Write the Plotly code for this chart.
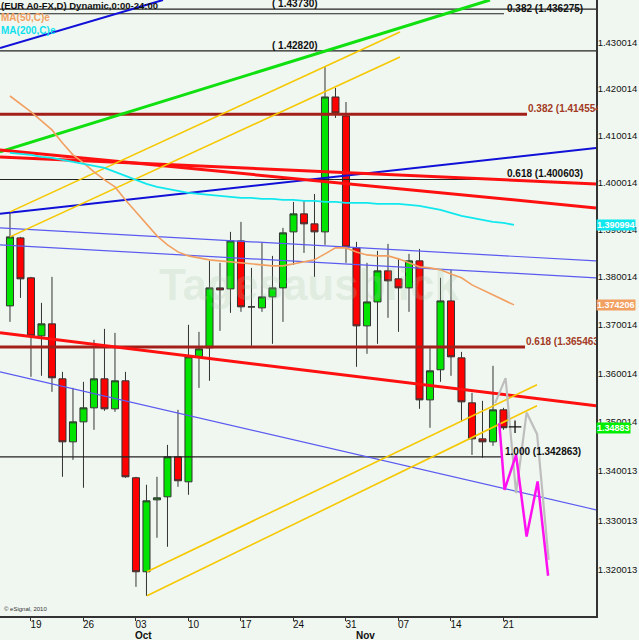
import math
import plotly.graph_objects as go

# ---------------- data ----------------
bar_index = list(range(48))
opens = [1.37400,1.38825,1.37986,1.36777,1.37026,1.35888,1.34595,1.35004,1.35291,1.35888,
         1.35271,1.35847,1.33863,1.31968,1.33416,1.33477,1.34289,1.33781,1.36342,1.36528,
         1.37776,1.37755,1.38762,1.37380,1.37359,1.37588,1.37776,1.38952,1.39332,1.39121,
         1.38952,1.41825,1.41418,1.38614,1.36984,1.37483,1.38132,1.37965,1.37776,1.38342,
         1.35455,1.36075,1.37504,1.36321,1.35394,1.34656,1.34595,1.35250]
highs = [1.39374,1.38846,1.38007,1.37463,1.38007,1.36032,1.35702,1.35826,1.36694,1.36922,
         1.36839,1.36032,1.33883,1.33721,1.33883,1.34533,1.35250,1.37006,1.36860,1.38342,
         1.38300,1.38952,1.39163,1.38195,1.38720,1.38446,1.39036,1.39585,1.39606,1.39753,
         1.42473,1.42019,1.41717,1.38741,1.38300,1.38551,1.38699,1.38384,1.38488,1.38593,
         1.36569,1.37986,1.38153,1.36445,1.35599,1.35435,1.36156,1.35291]
lows = [1.37068,1.37567,1.35929,1.35950,1.35620,1.33883,1.34228,1.33660,1.34841,1.35230,
        1.35209,1.33863,1.31667,1.31487,1.32650,1.32469,1.33680,1.33518,1.35702,1.35847,
        1.36881,1.37255,1.37276,1.36569,1.37276,1.36611,1.37068,1.38258,1.38509,1.38007,
        1.38678,1.41375,1.38300,1.36136,1.36404,1.36611,1.37151,1.36860,1.37276,1.35271,
        1.34882,1.35826,1.35950,1.35004,1.34329,1.34269,1.34513,1.34841]
closes = [1.38846,1.37965,1.36777,1.37026,1.35909,1.34595,1.35004,1.35291,1.35888,1.35271,
          1.35847,1.33883,1.31968,1.33396,1.33457,1.34289,1.33802,1.36342,1.36507,1.37776,
          1.37734,1.38762,1.37380,1.37380,1.37588,1.37776,1.38931,1.39332,1.39121,1.38952,
          1.41825,1.41482,1.38635,1.36984,1.37483,1.38132,1.37923,1.37776,1.38342,1.35455,
          1.36053,1.37504,1.36342,1.35414,1.34656,1.34595,1.35250,1.34883]

ma_index = list(range(49))
ma50 = [1.41846,1.41674,1.41503,1.41311,1.41118,1.40840,1.40584,1.40414,1.40222,1.40052,
        1.39903,1.39627,1.39374,1.39121,1.38867,1.38678,1.38530,1.38446,1.38404,1.38363,
        1.38342,1.38321,1.38300,1.38279,1.38258,1.38237,1.38237,1.38279,1.38321,1.38363,
        1.38488,1.38614,1.38614,1.38530,1.38467,1.38446,1.38446,1.38384,1.38300,1.38216,
        1.38195,1.38153,1.38069,1.37986,1.37839,1.37734,1.37630,1.37525,1.374206]
ma200 = [1.40626,1.40605,1.40584,1.40541,1.40520,1.40477,1.40435,1.40392,1.40350,1.40307,
         1.40222,1.40137,1.40052,1.39967,1.39904,1.39861,1.39819,1.39776,1.39755,1.39733,
         1.39712,1.39691,1.39670,1.39670,1.39648,1.39648,1.39627,1.39627,1.39606,1.39606,
         1.39585,1.39585,1.39564,1.39564,1.39564,1.39543,1.39543,1.39543,1.39522,1.39500,
         1.39458,1.39416,1.39353,1.39290,1.39247,1.39205,1.39163,1.39142,1.390994]

# projections
proj_magenta_x = [46.6, 47.1, 48.2, 49.2, 50.25, 51.25]
proj_magenta_p = [1.34978, 1.33619, 1.34330, 1.32676, 1.33788, 1.31888]
proj_gray_x = [46.2, 47.2, 48.2, 49.2, 50.2, 51.3]
proj_gray_p = [1.35387, 1.35902, 1.33552, 1.35195, 1.34752, 1.32208]
cursor_x = [48.1]
cursor_p = [1.34902]

# trend lines: (x0, p0, x1, p1)
blue_top_line = [-0.95, 1.42883, 14.57, 1.43927]
green_line = [-0.95, 1.40647, 45.71, 1.43927]
blue_long_line = [-0.95, 1.39332, 55.81, 1.40733]
red_line_a = [-0.95, 1.40541, 55.81, 1.39967]
red_line_b = [-0.95, 1.40690, 55.81, 1.39458]
red_line_c = [-0.95, 1.36839, 55.81, 1.35332]
thin_blue_1 = [-0.95, 1.39036, 55.81, 1.38342]
thin_blue_2 = [-0.95, 1.38678, 55.81, 1.37986]
thin_blue_3 = [-0.95, 1.36032, 55.81, 1.33214]
yellow_a = [0, 1.39374, 37.14, 1.43231]
yellow_b = [0, 1.38846, 37.14, 1.42689]
yellow_c = [13.05, 1.31968, 50.19, 1.35764]
yellow_d = [13.05, 1.31487, 50.19, 1.35332]

# fibonacci / level lines
level_prices = [1.43730, 1.436275, 1.42820, 1.414554, 1.400603, 1.365463, 1.342863]
level_end_x = [60, 47.05, 60, 49.24, 47.14, 49.05, 46.95]
level_text = ["( 1.43730)", "0.382 (1.436275)", "( 1.42820)", "0.382 (1.414554)",
              "0.618 (1.400603)", "0.618 (1.365463)", "1.000 (1.342863)"]

x_tick_vals = [2, 7, 12, 17, 22, 27, 32, 37, 42, 47]
x_tick_text = ["19", "26", "03", "10", "17", "24", "31", "07", "14", "21"]
month_pos = [12.76, 33.9]
month_text = ["Oct", "Nov"]
y_tick_vals = [1.320013, 1.330013, 1.340013, 1.350014, 1.360014, 1.370014,
               1.380014, 1.390014, 1.400014, 1.410014, 1.420014, 1.430014]
y_tick_text = ["%.6f" % v for v in y_tick_vals]
tag_values = [1.390994, 1.374206, 1.34883]
tag_text = ["1.390994", "1.374206", "1.34883"]

# ---------------- figure ----------------
FONT = "Liberation Sans, Arial, sans-serif"
BG = "#F0F7F0"
fig = go.Figure()


def add_line(seg, color, width):
    fig.add_trace(go.Scatter(x=[seg[0], seg[2]], y=[seg[1], seg[3]], mode="lines",
                             line=dict(color=color, width=width), hoverinfo="skip",
                             showlegend=False))


fib_style = {1.414554: ("#A3201A", 3), 1.365463: ("#A3201A", 3)}
for p, xe in zip(level_prices, level_end_x):
    col, w = fib_style.get(p, ("#222222", 1.2))
    fig.add_trace(go.Scatter(x=[-2, xe], y=[p, p], mode="lines",
                             line=dict(color=col, width=w), hoverinfo="skip", showlegend=False))

add_line(thin_blue_1, "#5A5AF0", 1.2)
add_line(thin_blue_2, "#5A5AF0", 1.2)
add_line(thin_blue_3, "#5A5AF0", 1.2)
add_line(blue_top_line, "#1010D8", 2)
add_line(blue_long_line, "#1010D8", 2)
add_line(green_line, "#10E010", 3)
add_line(red_line_a, "#FF1010", 3)
add_line(red_line_b, "#FF1010", 3)
add_line(red_line_c, "#FF1010", 3)
add_line(yellow_a, "#F5C800", 1.6)
add_line(yellow_b, "#F5C800", 1.6)
add_line(yellow_c, "#F5C800", 1.6)
add_line(yellow_d, "#F5C800", 1.6)

fig.add_trace(go.Scatter(x=ma_index, y=ma50, mode="lines", line=dict(color="#F2A062", width=1.6),
                         hoverinfo="skip", showlegend=False))
fig.add_trace(go.Scatter(x=ma_index, y=ma200, mode="lines", line=dict(color="#10E8EE", width=1.8),
                         hoverinfo="skip", showlegend=False))

fig.add_trace(go.Candlestick(
    x=bar_index, open=opens, high=highs, low=lows, close=closes,
    increasing=dict(fillcolor="#00E400", line=dict(color="#333333", width=1)),
    decreasing=dict(fillcolor="#FF0000", line=dict(color="#333333", width=1)),
    whiskerwidth=0, showlegend=False, hoverinfo="skip"))

fig.add_trace(go.Scatter(x=proj_gray_x, y=proj_gray_p, mode="lines",
                         line=dict(color="#BEBEBE", width=2.2), hoverinfo="skip", showlegend=False))
fig.add_trace(go.Scatter(x=proj_magenta_x, y=proj_magenta_p, mode="lines",
                         line=dict(color="#FF10F0", width=2.5), hoverinfo="skip", showlegend=False))
fig.add_trace(go.Scatter(x=cursor_x, y=cursor_p, mode="markers",
                         marker=dict(symbol="cross-thin", size=9, line=dict(color="#111111", width=1.3)),
                         hoverinfo="skip", showlegend=False))

L = math.log10
ann = []
for p, xe, t in zip(level_prices, level_end_x, level_text):
    col = "#A33A24" if p in fib_style else "#111111"
    if t.startswith("("):
        ann.append(dict(x=29.52, y=L(p), xref="x", yref="y", text="<b>%s</b>" % t, showarrow=False,
                        xanchor="right", yanchor="bottom", yshift=-2,
                        font=dict(family=FONT, size=10, color=col)))
    else:
        a = dict(x=xe + 0.05, y=L(p), xref="x", yref="y", text="<b>%s</b>" % t, showarrow=False,
                 xanchor="left", yanchor="bottom", yshift=-2,
                 font=dict(family=FONT, size=10, color=col))
        if p in fib_style:
            a.update(x=xe - 0.1, width=70, align="left")
        ann.append(a)

ann.append(dict(x=0, y=1, xref="paper", yref="paper", text="<b>(EUR A0-FX,D) Dynamic,0:00-24:00</b>",
                showarrow=False, xanchor="left", yanchor="top", yshift=2, xshift=-1,
                font=dict(family=FONT, size=9.5, color="#111111")))
ann.append(dict(x=0, y=1, xref="paper", yref="paper", text="<b>MA(50,C)e</b>", showarrow=False,
                xanchor="left", yanchor="top", yshift=-10, xshift=-1,
                font=dict(family=FONT, size=10, color="#F2A062")))
ann.append(dict(x=0, y=1, xref="paper", yref="paper", text="<b>MA(200,C)e</b>", showarrow=False,
                xanchor="left", yanchor="top", yshift=-23, xshift=-1,
                font=dict(family=FONT, size=10, color="#10E0EE")))
ann.append(dict(x=28.5, y=L(1.3785), xref="x", yref="y", text="<b>Tagesausblick</b>", showarrow=False,
                font=dict(family=FONT, size=44, color="rgba(170,200,170,0.22)")))
ann.append(dict(x=0.003, y=0, xref="paper", yref="paper", text="© eSignal, 2010", showarrow=False,
                xanchor="left", yanchor="bottom", yshift=2,
                font=dict(family=FONT, size=6, color="#333333")))
for mx, mt in zip(month_pos, month_text):
    ann.append(dict(x=mx, y=0, xref="x", yref="paper", text="<b>%s</b>" % mt, showarrow=False,
                    xanchor="center", yanchor="middle", yshift=-19,
                    font=dict(family=FONT, size=10, color="#111111")))
for val, txt, bg in zip(tag_values, tag_text, ["#10E8F0", "#F2A062", "#00EE00"]):
    ann.append(dict(x=1, y=L(val), xref="paper", yref="y", text="<b>%s</b>" % txt,
                    showarrow=False, xanchor="left", yanchor="middle", xshift=0,
                    bgcolor=bg, borderpad=0,
                    font=dict(family=FONT, size=9, color="#FFFFFF")))

fig.update_layout(
    width=639, height=640,
    margin=dict(l=0, r=43, t=0, b=24),
    paper_bgcolor=BG, plot_bgcolor=BG,
    annotations=ann,
    boxgap=0.33, boxgroupgap=0,
    showlegend=False,
    xaxis=dict(range=[-0.95, 55.81], rangeslider=dict(visible=False), showgrid=False, zeroline=False,
               showline=True, linecolor="#333333", linewidth=1.5,
               tickmode="array", tickvals=x_tick_vals, ticktext=x_tick_text,
               ticks="outside", ticklen=3, tickcolor="#333333", ticklabelshift=5,
               ticklabelstandoff=-5,
               tickfont=dict(family=FONT, size=10, color="#111111")),
    yaxis=dict(type="log", range=[L(1.31085), L(1.43927)], side="right", showgrid=False,
               zeroline=False, showline=True, linecolor="#333333", linewidth=1.5,
               tickmode="array", tickvals=y_tick_vals, ticktext=y_tick_text, ticks="",
               ticklabelstandoff=-2,
               tickfont=dict(family=FONT, size=9.5, color="#111111")),
)

fig.write_html("out.html", config={"displayModeBar": False},
               post_script="document.body.style.margin='0';document.body.style.background='%s';" % BG)
